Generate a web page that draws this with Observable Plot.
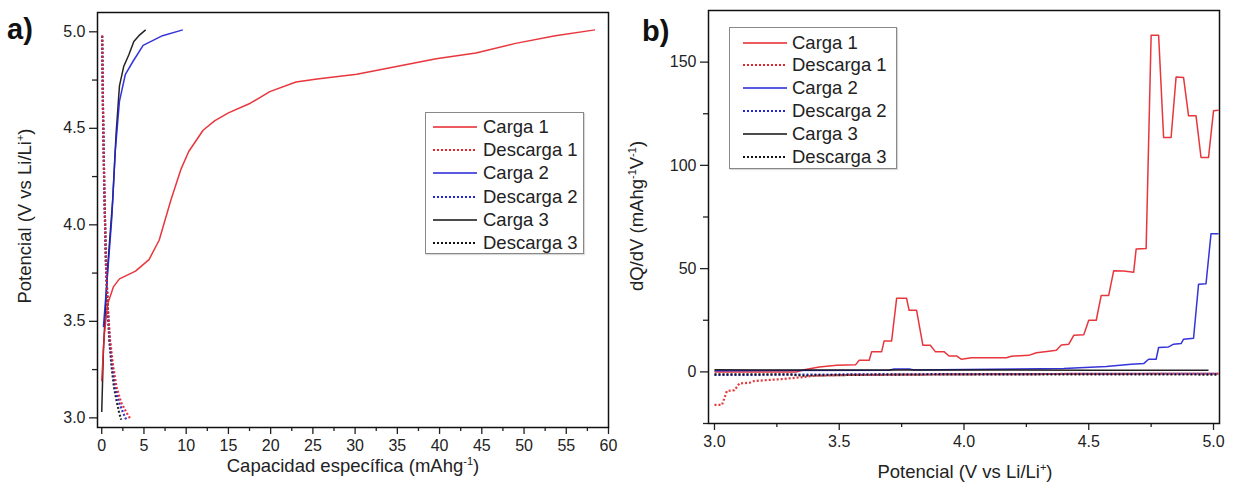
<!DOCTYPE html>
<html>
<head>
<meta charset="utf-8">
<script src="https://cdn.jsdelivr.net/npm/d3@7"></script>
<script src="https://cdn.jsdelivr.net/npm/@observablehq/plot@0.6"></script>
<style>
  body { margin: 0; background: #fff; font-family: "Liberation Sans", Arial, sans-serif; }
  #wrap { position: relative; width: 1233px; height: 491px; overflow: hidden; background: #fff; }
  .panel { position: absolute; top: 0; }
  .title { position: absolute; font-size: 18.5px; color: #222; white-space: nowrap; transform: translate(-50%, -50%); }
  .title.rot { transform: translate(-50%, -50%) rotate(-90deg); }
  .title sup { font-size: 11px; vertical-align: 7px; line-height: 0; }
  .tag { position: absolute; font-size: 29px; font-weight: bold; color: #111; line-height: 1; }
  .legend { position: absolute; border: 1px solid #888; background: #fff; box-sizing: border-box; box-shadow: 1px 1px 1px rgba(0,0,0,0.15); }
  .legend .row { position: absolute; height: 22px; display: flex; align-items: center; font-size: 18.5px; color: #222; white-space: nowrap; }
  .legend svg { display: block; }
</style>
</head>
<body>
<div id="wrap"></div>
<script>
// ---- Panel a: potential vs specific capacity ----
const carga1Cap = [0, 0.3, 0.7, 1.4, 2.1, 4.0, 5.6, 6.8, 8.2, 9.4, 10.3, 12.0, 13.4, 15.0, 17.6, 19.9, 23.0, 25.5, 30.2, 34.9, 39.6, 44.3, 49.0, 53.7, 58.4];
const carga1V   = [3.19, 3.43, 3.59, 3.68, 3.72, 3.76, 3.82, 3.92, 4.13, 4.29, 4.38, 4.49, 4.54, 4.58, 4.63, 4.69, 4.74, 4.755, 4.78, 4.82, 4.86, 4.89, 4.94, 4.98, 5.01];
const carga2Cap = [0.2, 0.7, 1.2, 1.6, 2.1, 2.8, 3.75, 4.9, 7.2, 9.6];
const carga2V   = [3.47, 3.75, 4.04, 4.38, 4.64, 4.78, 4.85, 4.93, 4.98, 5.01];
const carga3Cap = [0, 0.2, 0.7, 1.3, 1.7, 2.1, 2.6, 3.2, 3.8, 4.4, 5.2];
const carga3V   = [3.03, 3.35, 3.78, 4.13, 4.47, 4.72, 4.82, 4.88, 4.95, 4.98, 5.01];
const descargaV    = [4.98, 4.6, 4.2, 3.8, 3.55, 3.4, 3.27, 3.16, 3.08, 3.03, 2.99];
const descarga1Cap = [0.05, 0.15, 0.3, 0.5, 0.75, 1.0, 1.35, 1.75, 2.3, 2.9, 3.45];
const descarga2Cap = [0.05, 0.15, 0.3, 0.5, 0.75, 0.95, 1.25, 1.6, 2.05, 2.5, 2.9];
const descarga3Cap = [0.05, 0.15, 0.3, 0.5, 0.72, 0.9, 1.15, 1.45, 1.8, 2.05, 2.3];

const capTicks = [0, 5, 10, 15, 20, 25, 30, 35, 40, 45, 50, 55, 60];
const capMinor = [2.5, 7.5, 12.5, 17.5, 22.5, 27.5, 32.5, 37.5, 42.5, 47.5, 52.5, 57.5];
const potTicksA = [3.0, 3.5, 4.0, 4.5, 5.0];
const potMinorA = [3.25, 3.75, 4.25, 4.75];

// ---- Panel b: differential capacity ----
const dq1V   = [3.0, 3.33, 3.36, 3.42, 3.49, 3.565, 3.58, 3.62, 3.63, 3.67, 3.68, 3.71, 3.73, 3.77, 3.78, 3.81, 3.835, 3.865, 3.885, 3.92, 3.94, 3.97, 3.99, 4.03, 4.17, 4.19, 4.26, 4.29, 4.34, 4.37, 4.39, 4.42, 4.44, 4.48, 4.5, 4.53, 4.55, 4.58, 4.6, 4.64, 4.68, 4.69, 4.73, 4.75, 4.78, 4.80, 4.83, 4.85, 4.88, 4.90, 4.93, 4.95, 4.98, 5.0, 5.02];
const dq1Val = [0, 0, 1, 2.4, 3.2, 3.4, 5.6, 5.6, 9.8, 9.8, 15, 15, 35.6, 35.6, 29.8, 29.8, 12.9, 12.9, 9.8, 9.8, 7.7, 7.7, 6.1, 6.8, 6.8, 7.6, 8, 9.3, 10, 10.5, 13, 13.4, 17.7, 18, 25, 25, 37, 37, 49, 48.8, 48.3, 59.5, 59.8, 163, 163, 113.5, 113.5, 142.8, 142.5, 124, 124, 103.8, 103.8, 126.4, 126.7];
const dq2V   = [3.0, 3.7, 3.72, 3.78, 3.8, 4.4, 4.57, 4.67, 4.72, 4.74, 4.77, 4.78, 4.82, 4.84, 4.87, 4.88, 4.92, 4.94, 4.97, 4.99, 5.02];
const dq2Val = [0.6, 0.8, 1.4, 1.4, 0.9, 1.6, 2.6, 3.7, 4.0, 6.1, 6.1, 11.8, 12.1, 13.4, 13.7, 15.8, 16.3, 42.4, 42.7, 66.9, 66.9];
const dq3V   = [3.0, 3.5, 4.0, 4.5, 4.98];
const dq3Val = [1.0, 0.9, 0.9, 0.8, 0.8];
const dqd1V   = [3.0, 3.03, 3.05, 3.08, 3.1, 3.14, 3.16, 3.27, 3.34, 3.4, 3.53, 4.14, 5.02];
const dqd1Val = [-16, -16, -9.2, -8.9, -5.6, -5.3, -4.4, -3.5, -2.7, -1.9, -1.5, -1.1, -0.8];
const dqd2V   = [3.0, 3.4, 3.6, 4.0, 4.5, 5.02];
const dqd2Val = [-1.5, -1.3, -1.2, -1.1, -1.0, -1.0];
const dqd3V   = [3.0, 3.3, 3.35, 3.6, 4.0, 4.5, 5.02];
const dqd3Val = [-1.2, -1.2, -1.8, -1.4, -1.2, -1.2, -1.3];

const potTicksB = [3.0, 3.5, 4.0, 4.5, 5.0];
const potMinorB = [3.25, 3.75, 4.25, 4.75];
const dqTicks = [0, 50, 100, 150];
const dqMinor = [-25, 25, 75, 125];

// ---- Series styling ----
const seriesNames = ["Carga 1", "Descarga 1", "Carga 2", "Descarga 2", "Carga 3", "Descarga 3"];
const seriesColors = ["#e5252b", "#e5252b", "#2323d6", "#2323d6", "#111111", "#111111"];
const seriesDotted = [false, true, false, true, false, true];
const DOTS = "2,2";

const zip = (xs, ys) => xs.map((x, i) => ({x, y: ys[i]}));

function lineMark(data, k) {
  const dotted = seriesDotted[k];
  return Plot.line(data, {
    x: "x", y: "y",
    stroke: seriesColors[k],
    strokeWidth: dotted ? 2.2 : 1.5,
    strokeDasharray: dotted ? DOTS : undefined,
    strokeLinecap: "butt",
    strokeOpacity: 0.92
  });
}

const font = {fontFamily: "'Liberation Sans', Arial, sans-serif", fontSize: "16px", color: "#222", background: "#fff", overflow: "visible"};

const seriesA = [
  zip(carga1Cap, carga1V), zip(descarga1Cap, descargaV),
  zip(carga2Cap, carga2V), zip(descarga2Cap, descargaV),
  zip(carga3Cap, carga3V), zip(descarga3Cap, descargaV)
];

const plotA = Plot.plot({
  width: 620, height: 491,
  marginLeft: 97, marginRight: 12, marginTop: 12, marginBottom: 64,
  style: font,
  x: {domain: [-0.5, 60]},
  y: {domain: [2.95, 5.1]},
  marks: [
    ...seriesA.map((d, k) => lineMark(d, k)).reverse(),
    Plot.axisX({ticks: capTicks, tickSize: 7, tickPadding: 5, tickFormat: d3.format("d"), label: null, strokeWidth: 1.3}),
    Plot.axisX({ticks: capMinor, tickSize: 4, text: null, label: null, strokeWidth: 1.3}),
    Plot.axisY({ticks: potTicksA, tickSize: 8, tickPadding: 4, tickFormat: d3.format(".1f"), label: null, strokeWidth: 1.3}),
    Plot.axisY({ticks: potMinorA, tickSize: 5, text: null, label: null, strokeWidth: 1.3}),
    Plot.frame({stroke: "#111", strokeWidth: 1.5})
  ]
});

const seriesB = [
  zip(dq1V, dq1Val), zip(dqd1V, dqd1Val),
  zip(dq2V, dq2Val), zip(dqd2V, dqd2Val),
  zip(dq3V, dq3Val), zip(dqd3V, dqd3Val)
];

const plotB = Plot.plot({
  width: 613, height: 491,
  marginLeft: 88, marginRight: 14, marginTop: 10, marginBottom: 68,
  style: font,
  x: {domain: [2.976, 5.024]},
  y: {domain: [-25, 175]},
  marks: [
    ...seriesB.map((d, k) => lineMark(d, k)),
    Plot.axisX({ticks: potTicksB, tickSize: 7, tickPadding: 5, tickFormat: d3.format(".1f"), label: null, strokeWidth: 1.3}),
    Plot.axisX({ticks: potMinorB, tickSize: 4, text: null, label: null, strokeWidth: 1.3}),
    Plot.axisY({ticks: dqTicks, tickSize: 8, tickPadding: 4, tickFormat: d3.format("d"), label: null, strokeWidth: 1.3}),
    Plot.axisY({ticks: dqMinor, tickSize: 5, text: null, label: null, strokeWidth: 1.3}),
    Plot.frame({stroke: "#111", strokeWidth: 1.5})
  ]
});

const wrap = document.getElementById("wrap");
plotA.classList.add("panel"); plotA.style.left = "0px";
plotB.classList.add("panel"); plotB.style.left = "620px";
wrap.appendChild(plotA);
wrap.appendChild(plotB);

function addHTML(html) { wrap.insertAdjacentHTML("beforeend", html); }

// Axis titles and panel tags
addHTML(`<div class="title" style="left:353px;top:466px">Capacidad específica (mAhg<sup>-1</sup>)</div>`);
addHTML(`<div class="title rot" style="left:25px;top:216px">Potencial (V vs Li/Li<sup>+</sup>)</div>`);
addHTML(`<div class="title" style="left:965px;top:472px">Potencial (V vs Li/Li<sup>+</sup>)</div>`);
addHTML(`<div class="title rot" style="left:637px;top:216px">dQ/dV (mAhg<sup>-1</sup>V<sup>-1</sup>)</div>`);
addHTML(`<div class="tag" style="left:7px;top:15px">a)</div>`);
addHTML(`<div class="tag" style="left:642px;top:17px">b)</div>`);

// Legends
function legend(left, top, w, h, padX, firstY, step, gap) {
  let rows = "";
  seriesNames.forEach((name, k) => {
    const stroke = seriesDotted[k] ? `stroke-dasharray="${DOTS}" stroke-width="2.2"` : `stroke-width="1.6"`;
    rows += `<div class="row" style="left:${padX}px;top:${firstY + k * step - 11}px">
      <svg width="44" height="10" style="margin-right:${gap}px"><line x1="0" x2="44" y1="5" y2="5" stroke="${seriesColors[k]}" ${stroke}/></svg>${name}</div>`;
  });
  addHTML(`<div class="legend" style="left:${left}px;top:${top}px;width:${w}px;height:${h}px">${rows}</div>`);
}
legend(425, 112, 159, 142, 7, 14, 23.2, 6);
legend(729, 27, 168, 142, 13, 14.5, 22.9, 5);
</script>
</body>
</html>
